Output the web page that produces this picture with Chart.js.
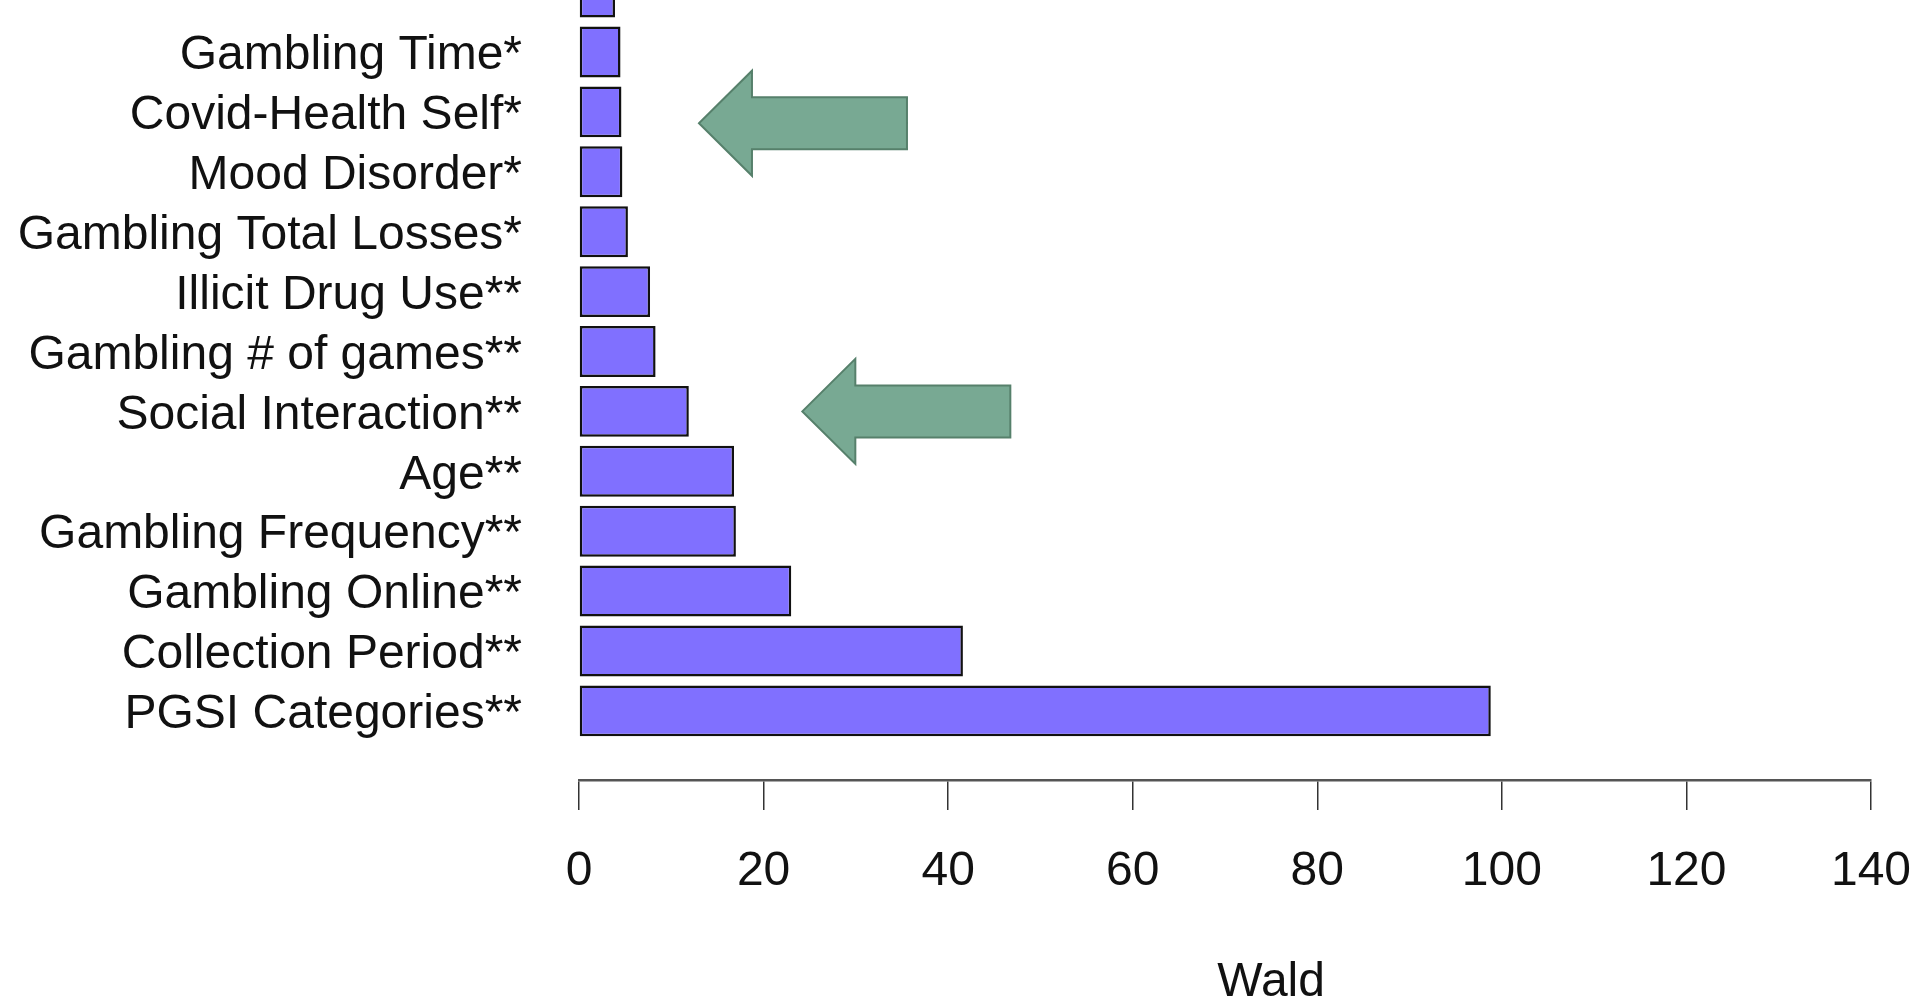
<!DOCTYPE html>
<html>
<head>
<meta charset="utf-8">
<script src="https://cdn.jsdelivr.net/npm/chart.js@4.4.1/dist/chart.umd.min.js"></script>
<style>
  html, body { margin: 0; padding: 0; background: #fff; overflow: hidden; }
  #waldChart { display: block; }
</style>
</head>
<body>
<canvas id="waldChart" width="1916" height="1005"></canvas>
<script>
// rows from top to bottom; the first one is cut off at the top of the picture
const categories = [
  "",
  "Gambling Time*",
  "Covid-Health Self*",
  "Mood Disorder*",
  "Gambling Total Losses*",
  "Illicit Drug Use**",
  "Gambling # of games**",
  "Social Interaction**",
  "Age**",
  "Gambling Frequency**",
  "Gambling Online**",
  "Collection Period**",
  "PGSI Categories**",
];
const waldValues = [3.9, 4.5, 4.6, 4.7, 5.3, 7.7, 8.3, 11.9, 16.8, 17.0, 23.0, 41.6, 98.8];
const xTicks = [0, 20, 40, 60, 80, 100, 120, 140];
const xTitle = "Wald";

// arrows pointing at two rows (tip in data units)
const arrowTipX = [13.0, 24.2];
const arrowRow = [2.19, 7.0];

Chart.defaults.font.family = '"Liberation Sans", Arial, sans-serif';
Chart.defaults.color = "#111";

const arrowPlugin = {
  id: "arrows",
  afterDraw(chart) {
    const ctx = chart.ctx;
    const xs = chart.scales.x;
    const ys = chart.scales.y;
    arrowTipX.forEach((tx, i) => {
      const x = xs.getPixelForValue(tx);
      const y = ys.getPixelForValue(arrowRow[i]);
      const len = 208, head = 53, headH = 52.5, shaftH = 26;
      ctx.save();
      ctx.beginPath();
      ctx.moveTo(x, y);
      ctx.lineTo(x + head, y - headH);
      ctx.lineTo(x + head, y - shaftH);
      ctx.lineTo(x + len, y - shaftH);
      ctx.lineTo(x + len, y + shaftH);
      ctx.lineTo(x + head, y + shaftH);
      ctx.lineTo(x + head, y + headH);
      ctx.closePath();
      ctx.fillStyle = "#78a993";
      ctx.fill();
      ctx.lineWidth = 2;
      ctx.strokeStyle = "#56806b";
      ctx.stroke();
      ctx.restore();
    });

    // axis title, centred a bit right of the scale middle like the R plot region
    ctx.save();
    ctx.font = '48px "Liberation Sans", Arial, sans-serif';
    ctx.fillStyle = "#111";
    ctx.textAlign = "center";
    ctx.textBaseline = "middle";
    ctx.fillText(xTitle, xs.getPixelForValue(75), chart.height - 22);
    ctx.restore();
  },
};

const ctx = document.getElementById("waldChart").getContext("2d");
new Chart(ctx, {
  type: "bar",
  data: {
    datasets: [
      {
        label: xTitle,
        data: waldValues.map((v, i) => ({ x: v, y: i })),
        backgroundColor: "#8070ff",
        borderColor: "#111",
        borderWidth: 2.5,
        borderSkipped: false,
        barPercentage: 0.85,
        categoryPercentage: 1,
      },
    ],
  },
  options: {
    indexAxis: "y",
    responsive: false,
    animation: false,
    layout: { padding: { top: 0, right: 45, bottom: 0, left: 0 } },
    plugins: {
      legend: { display: false },
      tooltip: { enabled: false },
    },
    scales: {
      y: {
        type: "linear",
        reverse: true,
        offset: false,
        min: 0.132,
        max: 13.154,
        grid: { display: false, drawTicks: false, offset: false },
        border: { display: false },
        afterBuildTicks: (scale) => {
          scale.ticks = categories.map((c, i) => ({ value: i })).filter((t) => t.value > 0);
        },
        afterFit: (scale) => {
          scale.width = 579;
          scale.paddingTop = 0;
          scale.paddingBottom = 0;
        },
        ticks: {
          autoSkip: false,
          padding: 57,
          labelOffset: 4,
          font: { size: 48 },
          color: "#111",
          callback: (val) => categories[val] ?? "",
        },
      },
      x: {
        type: "linear",
        min: 0,
        max: 140,
        afterBuildTicks: (scale) => {
          scale.ticks = xTicks.map((v) => ({ value: v }));
        },
        afterFit: (scale) => {
          scale.height = 225;
          scale.paddingLeft = 0;
          scale.paddingRight = 0;
        },
        grid: {
          drawOnChartArea: false,
          drawTicks: true,
          tickLength: 30,
          color: "#333",
          lineWidth: 1.5,
        },
        border: { display: true, color: "#555", width: 2.5 },
        ticks: {
          autoSkip: false,
          padding: 33,
          font: { size: 48 },
          color: "#111",
          maxRotation: 0,
        },
      },
    },
  },
  plugins: [arrowPlugin],
});
</script>
</body>
</html>
